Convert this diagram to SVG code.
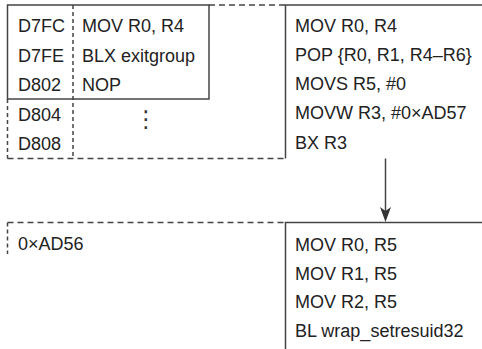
<svg xmlns="http://www.w3.org/2000/svg" width="482" height="349" viewBox="0 0 482 349">
<style>
text{font-family:"Liberation Sans",Arial,sans-serif;font-size:18px;fill:#222}
.s{fill:none;stroke:#444;stroke-width:1.5}
.d{fill:none;stroke:#444;stroke-width:1.5;stroke-dasharray:6 4}
.dv{fill:none;stroke:#444;stroke-width:1.5;stroke-dasharray:4 3}
</style>
<rect width="482" height="349" fill="#fff"/>
<g id="memory-dashed">
<path class="d" d="M209 5H285.5"/>
<path class="d" d="M7.5 158.5H285.5"/>
<path class="dv" d="M7.5 99V158.5"/>
<path class="dv" d="M73 5V158.5"/>
<text x="18" y="121">D804</text>
<text x="18" y="150">D808</text>
<text x="146" y="127" text-anchor="middle" style="font-family:'DejaVu Sans',sans-serif;font-size:23px;fill:#333">⋮</text>
</g>
<g id="exit-block">
<rect class="s" x="7.5" y="5" width="201.5" height="94"/>
<text x="18" y="32">D7FC</text>
<text x="18" y="62">D7FE</text>
<text x="18" y="91">D802</text>
<text x="82" y="32">MOV R0, R4</text>
<text x="82" y="62">BLX exitgroup</text>
<text x="82" y="91">NOP</text>
</g>
<g id="gadget-block">
<path class="s" d="M482 5H285.5V158.5"/>
<text x="295" y="32">MOV R0, R4</text>
<text x="295" y="61">POP {R0, R1, R4–R6}</text>
<text x="295" y="90">MOVS R5, #0</text>
<text x="295" y="119">MOVW R3, #0×AD57</text>
<text x="295" y="149">BX R3</text>
</g>
<g id="ad56-block">
<path class="d" d="M7.5 222.5H285.5"/>
<path class="dv" d="M7.5 222.5V254"/>
<text x="18" y="250">0×AD56</text>
</g>
<g id="setresuid-block">
<path class="s" d="M482 222.5H285.5V349"/>
<text x="295" y="251">MOV R0, R5</text>
<text x="295" y="280">MOV R1, R5</text>
<text x="295" y="308">MOV R2, R5</text>
<text x="295" y="337">BL wrap_setresuid32</text>
</g>
<g id="connectors">
<path class="s" d="M385.5 158.5V212"/>
<path d="M380 207L385.5 222L391 207L385.5 211Z" fill="#333"/>
</g>
</svg>
